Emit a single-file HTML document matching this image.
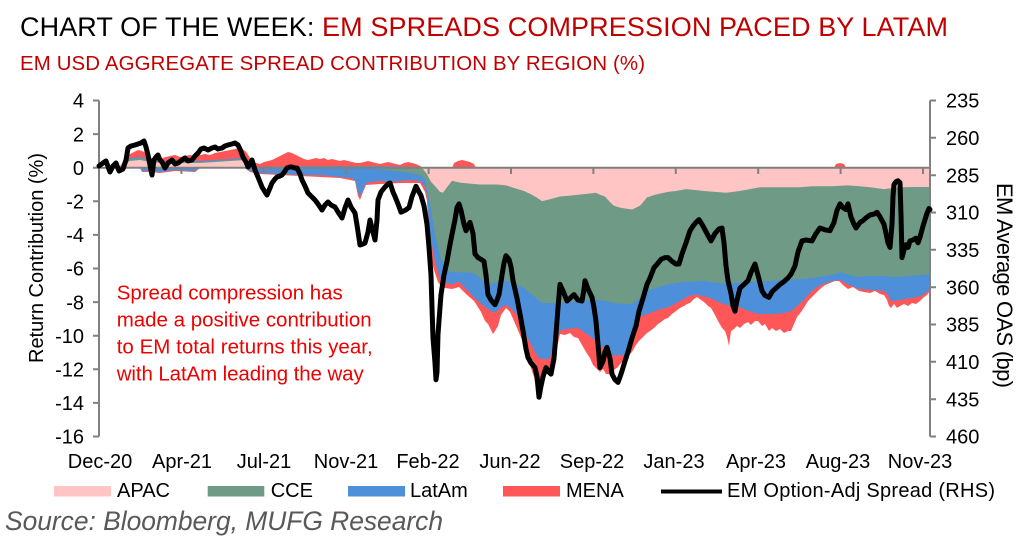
<!DOCTYPE html>
<html><head><meta charset="utf-8"><style>
html,body{margin:0;padding:0;background:#fff;}
svg{display:block;}
text{font-family:"Liberation Sans",Arial,sans-serif;}
</style></head><body>
<svg width="1022" height="550" viewBox="0 0 1022 550" xmlns="http://www.w3.org/2000/svg">
<rect width="1022" height="550" fill="#fff"/>
<!-- Titles -->
<text x="20" y="36" font-size="27" textLength="928" lengthAdjust="spacing"><tspan fill="#000">CHART OF THE WEEK: </tspan><tspan fill="#c00000">EM SPREADS COMPRESSION PACED BY LATAM</tspan></text>
<text x="20" y="70" font-size="20.4" fill="#c00000" textLength="625" lengthAdjust="spacing">EM USD AGGREGATE SPREAD CONTRIBUTION BY REGION (%)</text>

<!-- Negative stacks -->
<polygon fill="#ff5757" points="99,168 140,168 142,172 150,172 160,173 175,171 195,172 200,168 245,168 250,172 260,174 280,175 300,176 320,177 340,178 355,181 358,196 360,200 363,192 366,185 380,184 400,183 420,183 425,192 427,201 430,254 434,270 438,282 441,286 445,288 452,289 459,287 466,294 474,301 481,312 485,321 488,324 490,328 493,334 495,331 498,326 501,315 506,308 510,312 514,321 517,328 520,335 524,345 527,356 531,368 534,377 538,395 541,386 544,382 546,374 549,371 552,363 555,354 558,343 560,334 565,335 570,333 574,337 578,338 582,345 586,352 590,358 593,365 596,368 600,372 603,369 606,374 610,374 614,370 618,367 621,363 625,361 628,356 632,352 636,345 639,341 643,337 647,333 650,331 654,328 658,324 661,322 665,319 668,318 672,314 676,311 680,308 684,306 687,304 690,303 694,299 697,297 701,300 704,302 708,306 711,308 715,315 718,321 722,328 725,331 727,337 729,346 731,331 734,329 737,326 740,328 744,324 748,322 751,325 755,321 758,321 762,326 765,324 769,331 772,328 776,331 780,329 784,333 788,331 791,331 794,324 797,317 801,312 805,306 808,301 812,297 816,293 820,289 825,285 830,283 835,281 839,281 844,286 848,289 853,287 859,291 864,292 870,293 875,291 880,294 884,295 887,300 889,306 891,308 894,304 897,308 900,306 904,304 908,306 912,303 916,304 920,301 924,297 927,295 930,291 930,167.7 99,167.7"/>
<polygon fill="#4e8fd9" points="99,168 140,168 142,171 150,171 160,172 175,170 185,171 195,171 200,168 245,168 250,171 260,173 280,174 300,175 320,175 340,177 350,178 355,180 358,192 360,197 363,190 366,183 372,182 380,181 390,182 400,181 410,180 420,181 425,187 427,196.5 430,233.5 434,256.6 438,272.4 441,279.8 445,282.5 452,284.4 459,281.6 466,289 474,297.3 481,303.8 488,309.4 495,313 501,307.5 506,304.7 512,309.4 517,314.9 524,330.6 531,344.5 538,357.5 544,359.3 549,359.3 555,344.5 560,330.6 569,328.8 578,327.9 587,334.3 596,340.8 603,348.2 610,354.7 618,355.6 625,354.7 632,344.5 636,326 640,316.8 650,313 660,309.4 668,307.5 680,301 690,295.5 697,294.6 704,296.4 711,298.3 718,302 726,304.7 733,306.6 740,307.5 749,311.2 758,314 767,314 776,314 784,313 791,311.2 801,302.9 812,290.9 820,285.3 830,281.6 839,279.8 848,284.4 859,289 870,289.9 884,290.9 888,294.6 891,301 900,300.1 910,298.3 920,296.4 926,292.7 930,289 930,167.7 99,167.7"/>
<polygon fill="#6f9a85" points="99,168 370,168 378,169 395,171 410,173 420,175 425,179 427,189 431,210 435,233.5 440,256.6 445,268.7 452,272.4 465,272.4 474,273.3 481,278.8 488,284.4 497,282.5 506,280.7 517,284.4 524,288.1 531,293.6 542,303 550,303 560,303 578,301 596,300 605,301 614,303 625,304 632,304 640,298 647,291 658,287.2 668,284.4 679,282.5 690,281.6 704,280.7 713,282.5 722,283.5 740,282.5 758,281.6 776,280.7 795,279.8 812,277.9 830,275.1 841,272.4 850,275.1 859,277 866,276 884,276 895,277 910,276 930,274.2 930,167.7 99,167.7"/>
<polygon fill="#ffc5c5" points="99,168 420,168 423,169 427,174.3 431,181.7 436,187.3 440,191.9 443,192.8 447,187.3 452,180.8 460,182.6 470,183.6 480,184.5 497,184.5 506,185.4 515,188.2 524,191 530,193.7 535,196.5 542,201.1 550,199.3 560,196.5 570,195.6 578,194.7 588,193.7 596,192.8 600,194.7 605,196.5 610,202.1 614,205.8 620,207.6 625,208.5 632,209.5 636,207.6 640,205.8 644,201.1 647,197.4 655,194.7 668,191.9 676,191 686,189.1 695,190 704,191 715,191.9 726,192.8 733,191.9 740,191 750,189.1 760,187.3 800,187.3 812,186.3 830,186.3 848,185.4 860,186.3 870,187.3 884,189.1 892,188.2 900,187.3 915,187 930,187 930,167.7 99,167.7"/>

<!-- Positive stacks -->
<polygon fill="#ff5757" points="99,168 118,168 121,165 124,160 127,157 130,154 134,152 138,150 142,151 146,153 150,158 154,158 158,160 162,158 166,157 170,156 175,155 180,157 185,156 190,155 195,156 200,155 205,154 210,155 215,153 220,152 225,151 230,150 235,149 240,148 244,150 247,153 250,158 253,161 256,163 260,164 264,162 268,161 272,160 276,158 280,156 284,154 288,152 292,153 296,155 300,157 304,159 308,160 312,159 316,158 320,159 324,158 328,160 332,159 336,160 340,161 344,160 348,161 352,162 356,163 360,163 364,162 368,161 372,162 376,163 380,164 384,163 388,162 392,163 396,164 400,165 404,163 408,162 412,163 416,164 420,166 424,168 452,168 454,163 458,161 462,160 466,161 470,162 474,164 476,168 834,168 836,164 840,163 844,164 846,168 930,168 930,167.7 99,167.7"/>
<polygon fill="#4e8fd9" points="99,168 120,168 124,162 130,158 140,157 150,160 165,161 200,161 230,159 245,158 250,163 255,167 260,167 300,166 380,166 420,167 424,168 930,168 930,167.7 99,167.7"/>
<polygon fill="#6f9a85" points="99,168 120,168 124,163 130,159 140,158 150,161 165,162 200,162 230,160 245,159 250,164 255,167 260,167 300,166.5 380,166.5 420,167.5 424,168 930,168 930,167.7 99,167.7"/>
<polygon fill="#ffc5c5" points="99,168 120,168 124,164 130,161 140,160 150,162 165,163 200,163 230,161 245,160 250,165 255,168 260,168 300,167 380,167 420,168 930,168 930,167.7 99,167.7"/>

<!-- Axes -->
<g stroke="#808080" stroke-width="2" fill="none">
<line x1="99" y1="100.5" x2="99" y2="436.5"/>
<line x1="930" y1="100.5" x2="930" y2="436.5"/>
<line x1="99" y1="167.7" x2="930" y2="167.7"/>
<path d="M93,100.5H99M93,134.1H99M93,167.7H99M93,201.3H99M93,234.9H99M93,268.5H99M93,302.1H99M93,335.7H99M93,369.3H99M93,402.9H99M93,436.5H99"/>
<path d="M930,100.5H936M930,137.8H936M930,175.2H936M930,212.5H936M930,249.8H936M930,287.2H936M930,324.5H936M930,361.8H936M930,399.2H936M930,436.5H936"/>
<path d="M181.4,167.7V174M263.8,167.7V174M346.2,167.7V174M428.6,167.7V174M511,167.7V174M593.4,167.7V174M675.8,167.7V174M758.2,167.7V174M840.6,167.7V174M923,167.7V174"/>
</g>

<!-- Black line -->
<polyline fill="none" stroke="#000" stroke-width="5" stroke-linejoin="round" stroke-linecap="round" points="99,166 103,163 106,161 110,172 113,166 116,163 119,171 123,169 126,160 128,148 131,146 135,145 138,144 141,143 144,141 146,147 148,155 150,165 152,175 154,160 156,157 158,155 160,160 162,162 165,168 168,163 172,160 175,164 178,163 182,160 185,158 188,161 192,160 195,156 198,153 201,149 204,148 208,150 212,148 215,147 218,149 222,148 225,146 228,145 232,144 235,143 238,145 240,149 243,157 246,162 248,167 250,164 252,160 255,170 258,177 260,182 262,187 265,192 267,195 270,188 272,183 275,179 277,177 280,176 282,175 285,171 287,168 290,167 292,167 295,168 297,168 300,174 302,180 305,186 308,193 312,197 315,200 318,204 322,210 325,205 328,202 331,205 335,207 338,212 342,218 345,208 348,200 351,207 355,213 357,225 360,245 363,244 365,243 368,232 370,220 372,228 375,240 377,220 378,200 381,192 385,187 388,184 390,183 393,192 395,196.5 398,203.9 401,212.2 405,210.4 409,207.6 412,196.5 416,186.3 419,191.9 421,195.6 424,205.8 427,224.3 429,247.4 431,275.1 432,307.5 433,338 435,363 436,379.7 437,372.3 438,334.3 440,307.5 441,294.6 444,275.1 447,261.3 450,244.6 452,234.4 455,219.6 457,207.6 459,203.9 461,210.4 464,224.3 466,230.7 468,226.1 470,222.4 473,233.5 475,253.9 478,257.6 481,259.4 484,261.3 486,275.1 488,294.6 491,300.1 495,304.7 497,300.1 499,294.6 502,275.1 504,263.1 506,255.7 509,259.4 511,266.8 513,280.7 517,298.3 520,314 523,330.6 526,349.1 528,357.5 531,363 535,367.6 537,376.9 539,397.2 541,386.1 543,376.9 546,367.6 549,372.3 551,374.1 554,358.4 556,334.3 558,307.5 560,284.4 563,290.9 567,301 570,298.3 574,294.6 578,300.1 582,301 584,289 585,280.7 588,289 592,297.3 594,307.5 596,321.4 598,344.5 600,367.6 603,361.2 605,351.9 607,347.3 610,358.4 612,374.1 615,379.7 618,382.4 621,374.1 625,361.2 628,351.9 632,338 636,326 639,311.2 643,298.3 647,284.4 650,277.9 654,267.7 658,263.1 661,259.4 665,257.6 668,257.6 672,261.3 676,264 679,264 682,253.9 686,242.8 690,230.7 693,226.1 696,222.4 699,219.6 703,226.1 708,235.4 711,240.9 715,233.5 719,228.9 722,228 724,242.8 726,265.9 728,280.7 731,293.6 733,305.7 735,311.2 737,300.1 740,288.1 744,284.4 748,280.7 751,272.4 755,264 758,275.1 762,290.9 765,295.5 769,297.3 772,291.8 776,288.1 780,284.4 784,281.6 788,277.9 791,274.2 795,265.9 798,252 802,240.9 806,240 812,240.9 816,233.5 820,228 825,229.8 830,230.7 834,222.4 837,210.4 840,203.9 843,207.6 846,209.5 848,203.9 851,216.9 854,224.3 856,228 860,222.4 863,220.6 866,217.8 870,215 874,214.1 877,212.2 880,216.9 882,220.6 884,224.3 886,233.5 888,242.8 890,247.4 892,224.3 893,196.5 894,184.5 896,181.7 898,180.8 900,182.6 901,215 902,257.6 904,250.2 906,244.6 908,247.4 910,240.9 913,240 916,238.1 918,242.8 920,237.2 923,226.1 925,219.6 927,213.2 929,208.5 930,209.5"/>

<!-- Left tick labels -->
<g font-size="20" fill="#000" text-anchor="end">
<text x="84" y="107.7">4</text>
<text x="84" y="141.3">2</text>
<text x="84" y="174.9">0</text>
<text x="84" y="208.5">-2</text>
<text x="84" y="242.1">-4</text>
<text x="84" y="275.7">-6</text>
<text x="84" y="309.3">-8</text>
<text x="84" y="342.9">-10</text>
<text x="84" y="376.5">-12</text>
<text x="84" y="410.1">-14</text>
<text x="84" y="443.7">-16</text>
</g>
<!-- Right tick labels -->
<g font-size="20" fill="#000">
<text x="946" y="107.7">235</text>
<text x="946" y="145">260</text>
<text x="946" y="182.4">285</text>
<text x="946" y="219.7">310</text>
<text x="946" y="257">335</text>
<text x="946" y="294.4">360</text>
<text x="946" y="331.7">385</text>
<text x="946" y="369">410</text>
<text x="946" y="406.4">435</text>
<text x="946" y="443.7">460</text>
</g>
<!-- X labels -->
<g font-size="20" fill="#000" text-anchor="middle">
<text x="100" y="468">Dec-20</text>
<text x="182" y="468">Apr-21</text>
<text x="264" y="468">Jul-21</text>
<text x="346" y="468">Nov-21</text>
<text x="428" y="468">Feb-22</text>
<text x="510" y="468">Jun-22</text>
<text x="592" y="468">Sep-22</text>
<text x="674" y="468">Jan-23</text>
<text x="756" y="468">Apr-23</text>
<text x="838" y="468">Aug-23</text>
<text x="920" y="468">Nov-23</text>
</g>
<!-- Axis titles -->
<text transform="translate(43,258) rotate(-90)" font-size="20" fill="#000" text-anchor="middle" textLength="210" lengthAdjust="spacing">Return Contribution (%)</text>
<text transform="translate(997,285.5) rotate(90)" font-size="22" fill="#000" text-anchor="middle" textLength="205" lengthAdjust="spacing">EM Average OAS (bp)</text>

<!-- Annotation -->
<g font-size="20.5" fill="#ee0000">
<text x="116.7" y="299.5" textLength="226" lengthAdjust="spacing">Spread compression has</text>
<text x="116.7" y="326.5" textLength="255" lengthAdjust="spacing">made a positive contribution</text>
<text x="116.7" y="353.5" textLength="256" lengthAdjust="spacing">to EM total returns this year,</text>
<text x="116.7" y="380.5" textLength="247" lengthAdjust="spacing">with LatAm leading the way</text>
</g>

<!-- Legend -->
<rect x="54" y="486" width="57" height="10.5" fill="#ffc5c5"/>
<text x="117" y="497" font-size="20" fill="#000">APAC</text>
<rect x="207.7" y="486" width="56.6" height="10.5" fill="#6f9a85"/>
<text x="270.7" y="497" font-size="20" fill="#000">CCE</text>
<rect x="348" y="486" width="57" height="10.5" fill="#4e8fd9"/>
<text x="410" y="497" font-size="20" fill="#000">LatAm</text>
<rect x="503" y="486" width="57" height="10.5" fill="#ff5757"/>
<text x="566" y="497" font-size="20" fill="#000">MENA</text>
<line x1="661" y1="491.5" x2="722" y2="491.5" stroke="#000" stroke-width="4"/>
<text x="727" y="497" font-size="20" fill="#000" textLength="268" lengthAdjust="spacing">EM Option-Adj Spread (RHS)</text>

<!-- Source -->
<text x="5" y="530" font-size="26.4" font-style="italic" fill="#595959" textLength="438" lengthAdjust="spacing">Source: Bloomberg, MUFG Research</text>
</svg>
</body></html>
